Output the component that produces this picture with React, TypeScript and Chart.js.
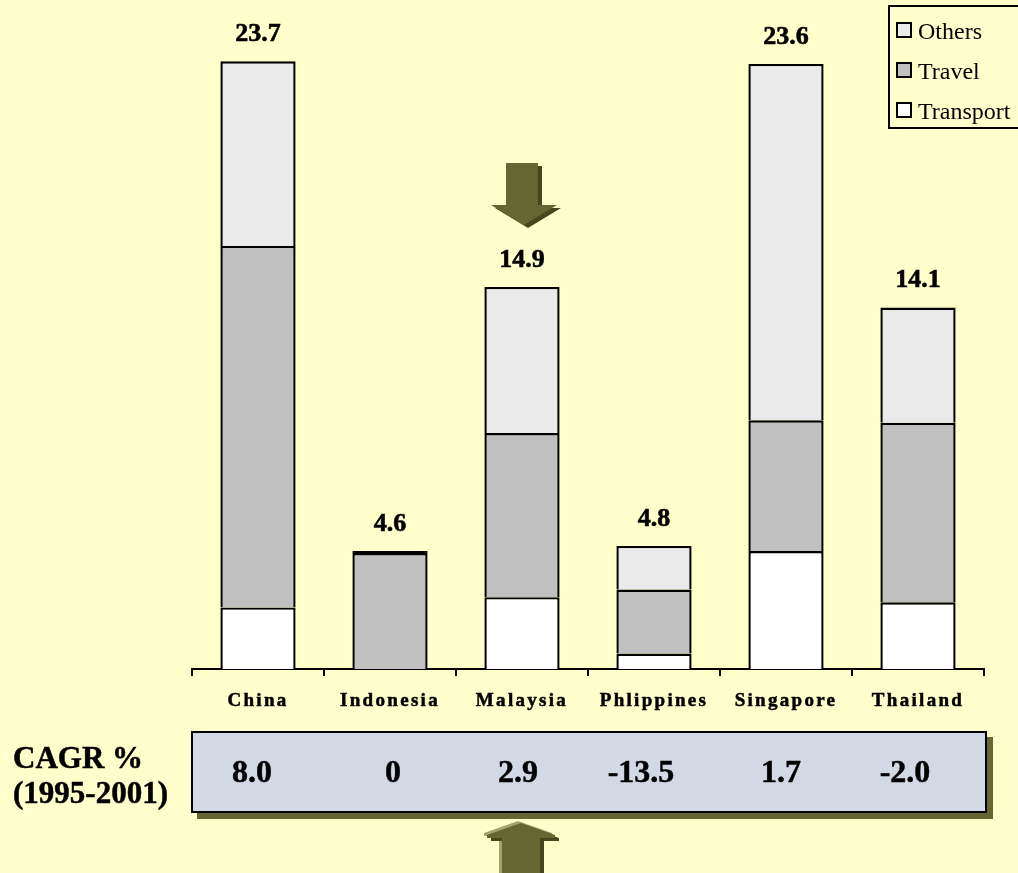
import React, { useEffect, useRef } from "react";
import { Chart, registerables } from "chart.js";

Chart.register(...registerables);

// Category names, service-export components and growth rates
const categories = ["China", "Indonesia", "Malaysia", "Phlippines", "Singapore", "Thailand"];
const transport = [2.4, 0, 2.8, 0.6, 4.6, 2.6];
const travel = [14.1, 4.52, 6.4, 2.5, 5.1, 7.0];
const others = [7.2, 0.08, 5.7, 1.7, 13.9, 4.5];
const cagrValues = ["8.0", "0", "2.9", "-13.5", "1.7", "-2.0"];
const cagrTitle = ["CAGR %", "(1995-2001)"];

const BG = "#FFFFCC";
const OLIVE = "#666633";
const SERIF = "'Liberation Serif', 'Times New Roman', serif";

// horizontal centres of the growth figures inside the strip
const cagrCentres = [252, 393, 518, 641, 781, 905];

const seriesDefs = [
  { label: "Transport", data: transport, color: "#FFFFFF" },
  { label: "Travel", data: travel, color: "#C0C0C0" },
  { label: "Others", data: others, color: "#EAEAEA" },
];

// a sliver too thin to show its fill is drawn solid, like its outline
const segmentFill = (color: string) => (c: any) => {
  const v = c.raw as number;
  return v > 0 && v < 0.1 ? "#000" : color;
};

const totalsPlugin = {
  id: "stackTotals",
  beforeDraw(chart: any) {
    chart.ctx.letterSpacing = "2.3px";
  },
  beforeDatasetsDraw(chart: any) {
    chart.ctx.letterSpacing = "0px";
  },
  afterDatasetsDraw(chart: any) {
    const { ctx, scales } = chart;
    ctx.save();
    ctx.letterSpacing = "0px";
    ctx.font = `bold 26px ${SERIF}`;
    ctx.fillStyle = "#000";
    ctx.strokeStyle = "#000";
    ctx.lineWidth = 0.6;
    ctx.textAlign = "center";
    ctx.textBaseline = "alphabetic";
    categories.forEach((_, i) => {
      const total = transport[i] + travel[i] + others[i];
      const x = scales.x.getPixelForValue(i);
      const y = scales.y.getPixelForValue(total) - 20;
      const txt = total.toFixed(1);
      ctx.fillText(txt, x, y);
      ctx.strokeText(txt, x, y);
    });
    ctx.restore();
  },
};

function Arrow({ left, top, w, h, points, dir }: any) {
  const poly = `polygon(${points})`;
  const layer = (dx: number, dy: number, color: string) => (
    <div
      style={{
        position: "absolute",
        left: left + dx,
        top: top + dy,
        width: w,
        height: h,
        background: color,
        clipPath: poly,
      }}
    />
  );
  return (
    <>
      {dir === "up" && layer(-3, -2, "#A3A370")}
      {layer(4, 3, "#47471F")}
      {layer(0, 0, OLIVE)}
    </>
  );
}

const boldText = {
  fontWeight: "bold" as const,
  WebkitTextStroke: "0.5px #000",
  whiteSpace: "nowrap" as const,
};

export default function App() {
  const canvasRef = useRef<HTMLCanvasElement | null>(null);

  useEffect(() => {
    const canvas = canvasRef.current;
    if (!canvas) return;
    const chart = new Chart(canvas, {
      type: "bar",
      data: {
        labels: categories,
        datasets: seriesDefs.map((s) => ({
          label: s.label,
          data: s.data,
          backgroundColor: segmentFill(s.color),
          borderColor: "#000",
          borderWidth: 2.4,
          borderSkipped: "bottom",
          categoryPercentage: 1,
          barPercentage: 0.57,
        })),
      },
      options: {
        responsive: false,
        animation: false,
        events: [],
        layout: { padding: { left: 192, right: 34, top: 28, bottom: 0 } },
        plugins: { legend: { display: false }, tooltip: { enabled: false } },
        scales: {
          x: {
            stacked: true,
            offset: true,
            grid: {
              offset: true,
              drawOnChartArea: false,
              drawTicks: true,
              tickLength: 7,
              color: "#000",
              lineWidth: 2,
            },
            border: { display: true, color: "#000", width: 2 },
            ticks: {
              color: "#000",
              font: { family: SERIF, size: 19, weight: "bold" },
              textStrokeColor: "#000",
              textStrokeWidth: 0.5,
              padding: 14,
              maxRotation: 0,
              autoSkip: false,
            },
            afterFit: (s: any) => {
              s.height = 204;
            },
          },
          y: { stacked: true, min: 0, max: 25, display: false },
        },
      },
      plugins: [totalsPlugin],
    } as any);
    return () => chart.destroy();
  }, []);

  const legendItems = [...seriesDefs].reverse();

  return (
    <div
      style={{
        position: "absolute",
        left: 0,
        top: 0,
        width: 1018,
        height: 873,
        overflow: "hidden",
        background: BG,
        fontFamily: SERIF,
        color: "#000",
      }}
    >
      <canvas ref={canvasRef} width={1018} height={873} style={{ position: "absolute", left: 0, top: 0 }} />

      {/* legend */}
      <div
        style={{
          position: "absolute",
          left: 888,
          top: 5,
          width: 140,
          height: 120,
          border: "2px solid #000",
        }}
      />
      {legendItems.map((s, i) => (
        <React.Fragment key={s.label}>
          <div
            style={{
              position: "absolute",
              left: 896,
              top: 22 + i * 40,
              width: 12,
              height: 12,
              border: "2px solid #000",
              background: s.color,
            }}
          />
          <div
            style={{
              position: "absolute",
              left: 918,
              top: 19 + i * 40,
              fontSize: 24,
              lineHeight: "24px",
              whiteSpace: "nowrap",
            }}
          >
            {s.label}
          </div>
        </React.Fragment>
      ))}

      <Arrow
        left={491}
        top={163}
        w={68}
        h={64}
        dir="down"
        points="15px 0, 47px 0, 47px 42px, 66px 42px, 33px 62px, 0 42px, 15px 42px"
      />

      {/* growth strip */}
      <div
        style={{
          position: "absolute",
          left: 13,
          top: 740,
          fontSize: 31,
          lineHeight: "35px",
          ...boldText,
        }}
      >
        {cagrTitle.map((t) => (
          <div key={t}>{t}</div>
        ))}
      </div>
      <div
        style={{
          position: "absolute",
          left: 191,
          top: 731,
          width: 792,
          height: 78,
          border: "2px solid #000",
          background: "#D3D8E5",
          boxShadow: `6px 6px 0 ${OLIVE}`,
        }}
      />
      {cagrValues.map((v, i) => (
        <div
          key={i}
          style={{
            position: "absolute",
            left: cagrCentres[i],
            top: 754,
            transform: "translateX(-50%)",
            fontSize: 32,
            lineHeight: "35px",
            ...boldText,
          }}
        >
          {v}
        </div>
      ))}

      <Arrow
        left={487}
        top={823}
        w={70}
        h={60}
        dir="up"
        points="34px 0, 68px 12px, 68px 15px, 53px 15px, 53px 60px, 15px 60px, 15px 15px, 0 15px, 0 12px"
      />
    </div>
  );
}
